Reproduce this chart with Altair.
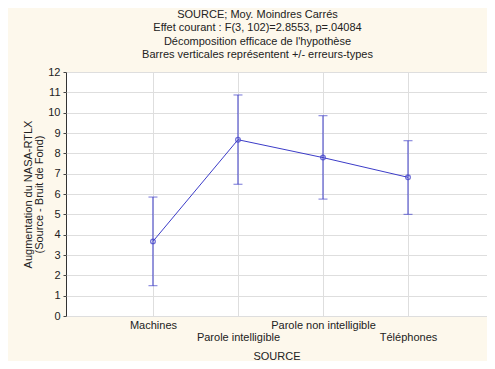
import altair as alt
import pandas as pd

categories = ["Machines", "Parole intelligible", "Parole non intelligible", "Téléphones"]
means = [3.67, 8.67, 7.79, 6.82]
upper = [5.85, 10.87, 9.85, 8.62]
lower = [1.49, 6.48, 5.75, 5.00]
y_ticks = list(range(0, 13))

df = pd.DataFrame({"cat": categories, "mean": means, "hi": upper, "lo": lower})

FONT = "Liberation Sans"
BLUE = "#3C3CC8"

x_axis = alt.Axis(
    title="SOURCE",
    labelAngle=0,
    ticks=False,
    domain=False,
    grid=True,
    labelPadding=3,
    labelLineHeight=12,
    labelExpr="(datum.value == 'Parole intelligible' || datum.value == 'Téléphones') ? ['', datum.label] : datum.label",
    titlePadding=8,
)
x_scale = alt.Scale(type="point", padding=0.976, align=0.524)
y_scale = alt.Scale(domain=[0, 12], nice=False, zero=True)
y_axis = alt.Axis(
    title=["Augmentation du NASA-RTLX", "(Source - Bruit de Fond)"],
    values=y_ticks,
    tickSize=3,
    labelPadding=3,
    domain=False,
    grid=True,
    labelOverlap=False,
    titlePadding=3,
)


def X():
    return alt.X("cat:N", sort=categories, scale=x_scale, axis=x_axis)


def Y(field):
    return alt.Y(field, type="quantitative", scale=y_scale, axis=y_axis)


base = alt.Chart(df)

line = base.mark_line(color=BLUE, strokeWidth=1).encode(x=X(), y=Y("mean"))
rule = base.mark_rule(color=BLUE, strokeWidth=1).encode(x=X(), y=Y("lo"), y2="hi:Q")
cap_hi = base.mark_tick(color=BLUE, size=9, thickness=1).encode(x=X(), y=Y("hi"))
cap_lo = base.mark_tick(color=BLUE, size=9, thickness=1).encode(x=X(), y=Y("lo"))
pts = base.mark_point(color=BLUE, size=22, strokeWidth=1.3, filled=False, shape="circle").encode(
    x=X(), y=Y("mean")
)

chart = (
    alt.layer(line, rule, cap_hi, cap_lo, pts)
    .properties(
        width=421,
        height=244,
        autosize=alt.AutoSizeParams(type="none"),
        padding={"left": 58, "top": 64, "right": 0, "bottom": 45},
        title=alt.TitleParams(
            text=[
                "SOURCE; Moy. Moindres Carrés",
                "Effet courant : F(3, 102)=2.8553, p=.04084",
                "Décomposition efficace de l'hypothèse",
                "Barres verticales représentent +/- erreurs-types",
            ],
            font=FONT,
            fontSize=11,
            fontWeight="normal",
            color="#222222",
            lineHeight=13.5,
            anchor="middle",
            offset=6,
            dx=-19,
        ),
    )
    .configure(background="#FDF8EC")
    .configure_view(fill="white", stroke="#333333", strokeWidth=1)
    .configure_axis(
        labelFont=FONT,
        titleFont=FONT,
        labelFontSize=11,
        titleFontSize=11,
        titleFontWeight="normal",
        labelColor="#222222",
        titleColor="#222222",
        tickColor="#444444",
        gridColor="#DEDEDE",
        gridWidth=1,
        titleLineHeight=11,
    )
)

chart.save("out.html", embed_options={"renderer": "svg", "actions": False})
